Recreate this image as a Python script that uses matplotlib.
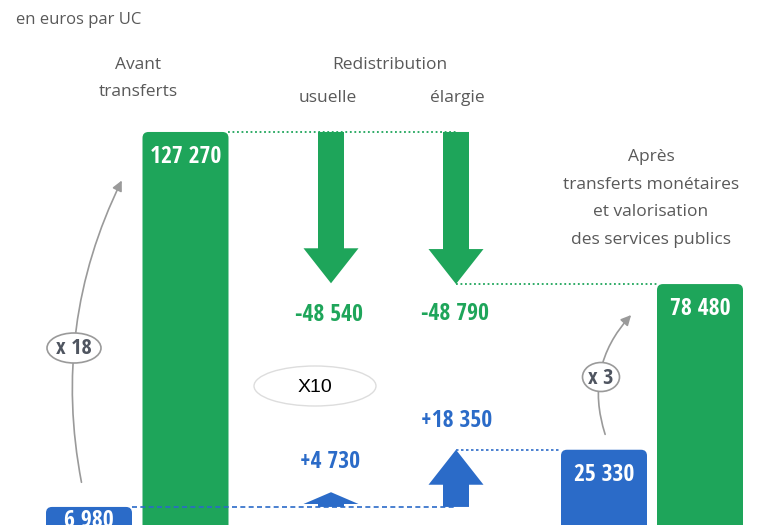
import matplotlib
matplotlib.use("Agg")
import matplotlib.pyplot as plt
from matplotlib.patches import FancyBboxPatch, Ellipse, FancyArrowPatch

# en euros par UC : les plus aisés (vert) et les plus modestes (bleu)
rich_values = [127270, 78480]      # avant / après transferts
poor_values = [6980, 25330]
usual_changes = [-48540, 4730]     # redistribution usuelle (aisés, modestes)
wide_changes = [-48790, 18350]     # redistribution élargie
ratio_labels = ["x 18", "x 3"]

GREEN = "#1ea55a"
BLUE = "#2b6bc8"
GREY = "#595959"
NUM_FONT = "Open Sans Condensed"
TXT_FONT = "Open Sans"

# layout, in pixels of the 784x525 picture
W, H = 784, 525
EUR_PER_PX = 320.8
BASE_PX = 528.7          # row of 0 euro, just under the crop
BAR_W = 86
rich_x = [185.5, 700]
poor_x = [89, 604]
usual_x, wide_x = 331, 456


def fmt(v, signed=False):
    s = f"{v:+,}" if signed else f"{v:,}"
    return s.replace(",", " ")


fig = plt.figure(figsize=(W / 100, H / 100), dpi=100)
ax = fig.add_axes([0, 0, 1, 1])
ax.set_xlim(0, W)
ax.set_ylim((BASE_PX - H) * EUR_PER_PX, BASE_PX * EUR_PER_PX)
ax.axis("off")


def rounded_bar(x, top, color):
    bottom = ax.get_ylim()[0] - 20 * EUR_PER_PX
    p = FancyBboxPatch((x - BAR_W / 2, bottom), BAR_W, top - bottom,
                       boxstyle="round,pad=0,rounding_size=6",
                       mutation_aspect=EUR_PER_PX, fc=color, ec="none", zorder=2)
    ax.add_patch(p)


def block_arrow(x, start, change, color, shaft=26, head=55):
    head_len = min(35 * EUR_PER_PX, 0.8 * abs(change))
    sgn = 1 if change > 0 else -1
    end = start + change
    neck = end - sgn * head_len
    xs = [x - shaft / 2, x + shaft / 2, x + shaft / 2, x + head / 2, x, x - head / 2, x - shaft / 2]
    ys = [start, start, neck, neck, end, neck, neck]
    ax.fill(xs, ys, color=color, lw=0, zorder=3)


for x, v in zip(rich_x, rich_values):
    rounded_bar(x, v, GREEN)
for x, v in zip(poor_x, poor_values):
    rounded_bar(x, v, BLUE)

# redistribution arrows
block_arrow(usual_x, rich_values[0], usual_changes[0], GREEN)
block_arrow(wide_x, rich_values[0], wide_changes[0], GREEN)
block_arrow(usual_x, poor_values[0], usual_changes[1], BLUE)
block_arrow(wide_x, poor_values[0], wide_changes[1], BLUE)

# guide lines
ax.plot([rich_x[0] + BAR_W / 2, wide_x], [rich_values[0]] * 2, color=GREEN,
        ls=(0, (1, 1.5)), lw=1.3, zorder=1)
ax.plot([wide_x, rich_x[1] - BAR_W / 2], [rich_values[0] + wide_changes[0]] * 2,
        color=GREEN, ls=(0, (1, 1.5)), lw=1.3, zorder=1)
ax.plot([poor_x[0] + BAR_W / 2, wide_x], [poor_values[0]] * 2, color=BLUE,
        ls=(0, (3, 2)), lw=1.2, zorder=4)
ax.plot([wide_x, poor_x[1] - BAR_W / 2], [poor_values[0] + wide_changes[1]] * 2,
        color=BLUE, ls=(0, (1.5, 1.5)), lw=1.2, zorder=1)

# value labels on bars
for x, v in zip(rich_x, rich_values):
    ax.annotate(fmt(v), (x, v), xytext=(0, -18), textcoords="offset points",
                ha="center", va="center", color="white", fontsize=17,
                family=NUM_FONT, weight="bold", zorder=5)
ax.annotate(fmt(poor_values[0]), (poor_x[0], poor_values[0]), xytext=(0, -10),
            textcoords="offset points", ha="center", va="center", color="white",
            fontsize=17, family=NUM_FONT, weight="bold", zorder=5)
ax.annotate(fmt(poor_values[1]), (poor_x[1], poor_values[1]), xytext=(0, -18),
            textcoords="offset points", ha="center", va="center", color="white",
            fontsize=17, family=NUM_FONT, weight="bold", zorder=5)

# overlay in pixel units for texts and callouts
ov = fig.add_axes([0, 0, 1, 1], zorder=5)
ov.set_xlim(0, W)
ov.set_ylim(H, 0)
ov.axis("off")

ov.text(16, 20, "en euros par UC", color=GREY, fontsize=12, family=TXT_FONT,
        ha="left", va="center")
headers = [("Avant", 138, 65), ("transferts", 138, 92),
           ("Redistribution", 390, 65), ("usuelle", 328, 98), ("élargie", 457, 98),
           ("Après", 651, 157), ("transferts monétaires", 651, 185),
           ("et valorisation", 651, 212), ("des services publics", 651, 240)]
for s, x, y in headers:
    ov.text(x, y, s, color=GREY, fontsize=12.5, family=TXT_FONT, ha="center", va="center")

# arrow amounts
ov.text(usual_x - 2, 315, fmt(usual_changes[0], True), color=GREEN, fontsize=17,
        family=NUM_FONT, weight="bold", ha="center", va="center")
ov.text(wide_x - 1, 314, fmt(wide_changes[0], True), color=GREEN, fontsize=17,
        family=NUM_FONT, weight="bold", ha="center", va="center")
ov.text(usual_x - 1, 462, fmt(usual_changes[1], True), color=BLUE, fontsize=17,
        family=NUM_FONT, weight="bold", ha="center", va="center")
ov.text(wide_x + 1, 421, fmt(wide_changes[1], True), color=BLUE, fontsize=17,
        family=NUM_FONT, weight="bold", ha="center", va="center")

# X10 scale note
ov.add_patch(Ellipse((315, 386), 122, 40, fc="white", ec="#dddddd", lw=1))
ov.text(315, 387, "X10", fontsize=14, family="Liberation Sans", color="black",
        ha="center", va="center")

# ratio callouts
callouts = [((82, 485), (123, 178), -0.17, (74, 348), (54, 30)),
            ((606, 437), (633, 313), -0.3, (601, 377), (37, 29))]
for lab, (p0, p1, rad, c, (ew, eh)) in zip(ratio_labels, callouts):
    ov.add_patch(FancyArrowPatch(p0, p1, connectionstyle=f"arc3,rad={rad}",
                                 arrowstyle="-|>,head_length=6,head_width=3",
                                 color="#9a9a9a", lw=1.2, zorder=1))
    ov.add_patch(Ellipse(c, ew, eh, fc="white", ec="#9a9a9a", lw=1.2, zorder=2))
    ov.text(c[0], c[1] + 1, lab, color="#4f5560", fontsize=16, family=NUM_FONT,
            weight="bold", ha="center", va="center", zorder=3)

fig.savefig("out.png", dpi=100)
